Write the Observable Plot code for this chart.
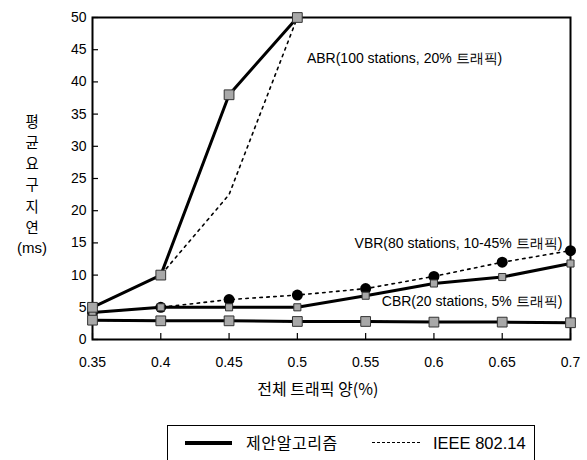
<!DOCTYPE html>
<html><head><meta charset="utf-8">
<script src="https://cdn.jsdelivr.net/npm/d3@7"></script>
<script src="https://cdn.jsdelivr.net/npm/@observablehq/plot@0.6"></script>
<style>
body{margin:0;background:#fff;font-family:"Liberation Sans",Arial,sans-serif;}
#wrap{position:relative;width:587px;height:460px;overflow:hidden;}
#ylab{position:absolute;left:8px;top:109.5px;width:48px;text-align:center;font-size:14.4px;font-family:"Noto Sans CJK KR","Liberation Sans",sans-serif;}
#ylab div{height:21.3px;line-height:21.3px;}
#legend{position:absolute;left:167px;top:425px;width:368px;height:50px;border:1.5px solid #000;box-sizing:border-box;font-size:16px;font-family:"Noto Sans CJK KR","Liberation Sans",sans-serif;}
#legend .sw1{position:absolute;left:17px;top:15px;width:47px;height:4px;background:#000;}
#legend .t1{position:absolute;left:78px;top:3px;letter-spacing:0.6px;line-height:26px;}
#legend .sw2{position:absolute;left:204px;top:16px;width:48px;border-top:1.5px dashed #000;}
#legend .t2{position:absolute;left:265px;top:4px;line-height:26px;font-size:16.5px;font-family:"Liberation Sans",Arial,sans-serif;}
</style></head>
<body><div id="wrap"><div id="chart"></div>
<div id="ylab"><div>평</div><div>균</div><div>요</div><div>구</div><div>지</div><div>연</div><div style="font-family:'Liberation Sans',Arial,sans-serif;font-size:15px">(ms)</div></div>
<div id="legend"><div class="sw1"></div><div class="t1">제안알고리즘</div><div class="sw2"></div><div class="t2">IEEE 802.14</div></div>
</div>
<script>
const xs = [0.35, 0.4, 0.45, 0.5, 0.55, 0.6, 0.65, 0.7];
const xTicks = [0.35, 0.4, 0.45, 0.5, 0.55, 0.6, 0.65, 0.7];
const xTickLabels = ["0.35","0.4","0.45","0.5","0.55","0.6","0.65","0.7"];
const yTicks = [0,5,10,15,20,25,30,35,40,45,50];
const abrX = [0.35, 0.4, 0.45, 0.5];
const abrProposed = [5, 10, 38, 50];
const abrIEEE = [5, 10, 22.5, 50];
const vbrProposed = [4.2, 5, 5, 5, 6.8, 8.7, 9.7, 11.8];
const vbrIEEE = [4.2, 5, 6.2, 6.9, 7.9, 9.8, 12, 13.8];
const cbrProposed = [3, 2.9, 2.9, 2.8, 2.8, 2.7, 2.7, 2.6];
const cbrIEEE = [3, 2.9, 2.9, 2.8, 2.8, 2.7, 2.7, 2.6];
const startLabels = [
  {text:"ABR(100 stations, 20% 트래픽)", x:0.507, y:43.6}
];
const endLabels = [
  {text:"VBR(80 stations, 10-45% 트래픽)", x:0.694, y:14.9},
  {text:"CBR(20 stations, 5% 트래픽)", x:0.694, y:5.9}
];

const toRows = (xv, yv) => xv.map((x,i)=>({x, y:yv[i]}));
const abrP = toRows(abrX, abrProposed), abrI = toRows(abrX, abrIEEE);
const vbrP = toRows(xs, vbrProposed), vbrI = toRows(xs, vbrIEEE);
const cbrP = toRows(xs, cbrProposed), cbrI = toRows(xs, cbrIEEE);

const dash = {stroke:"#000", strokeWidth:1.6, strokeDasharray:"2.5,4.5"};
const solid = {stroke:"#000", strokeWidth:3};
const sq = {symbol:"square", r:5.5, fill:"#a8a8a8", stroke:"#333", strokeWidth:1};
const sqSmall = {symbol:"square", r:4, fill:"#a8a8a8", stroke:"#333", strokeWidth:1};

const chart = Plot.plot({
  width:587, height:420,
  marginLeft:92, marginRight:17, marginTop:17, marginBottom:81,
  style:{fontFamily:"'Liberation Sans', Arial, sans-serif", fontSize:"14px", color:"#000", background:"#fff"},
  x:{domain:[0.35,0.7]},
  y:{domain:[0,50]},
  marks:[
    Plot.axisX(xTicks, {tickSize:-6, tickPadding:24, tickFormat:(d,i)=>xTickLabels[i], fontSize:14, label:null, strokeWidth:1.2}),
    Plot.axisY(yTicks, {tickSize:-6, tickPadding:12, fontSize:14, label:null, strokeWidth:1.2}),
    Plot.text(["전체 트래픽 양(%)"], {x:0.515, y:0, frameAnchor:"bottom", dy:55, fontSize:16, letterSpacing:"1.5px", fontFamily:"'Noto Sans CJK KR', sans-serif"}),
    Plot.frame({stroke:"#000", strokeWidth:2}),
    Plot.line(abrI, {x:"x", y:"y", ...dash}),
    Plot.line(vbrI, {x:"x", y:"y", ...dash}),
    Plot.line(cbrI, {x:"x", y:"y", ...dash}),
    Plot.line(abrP, {x:"x", y:"y", ...solid}),
    Plot.line(vbrP, {x:"x", y:"y", ...solid}),
    Plot.line(cbrP, {x:"x", y:"y", ...solid}),
    Plot.dot(vbrI, {x:"x", y:"y", r:5.5, fill:"#000"}),
    Plot.dot(vbrP, {x:"x", y:"y", ...sqSmall}),
    Plot.dot(cbrP, {x:"x", y:"y", ...sq}),
    Plot.dot(abrP, {x:"x", y:"y", ...sq}),
    Plot.text(startLabels, {x:"x", y:"y", text:"text", textAnchor:"start", fontSize:14, fill:"#000"}),
    Plot.text(endLabels, {x:"x", y:"y", text:"text", textAnchor:"end", fontSize:14, fill:"#000"})
  ]
});
document.getElementById("chart").appendChild(chart);
</script></body></html>
